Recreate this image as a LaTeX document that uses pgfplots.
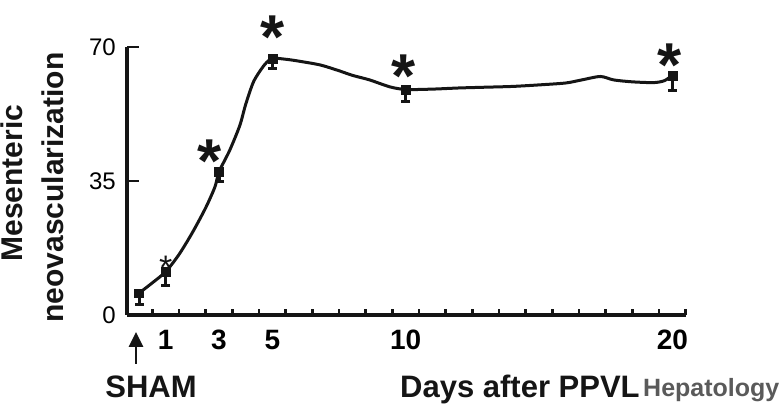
\documentclass[border=0pt]{standalone}
\usepackage{fontspec}
\setmainfont{Liberation Sans}
\usepackage{pgfplots}
\pgfplotsset{compat=1.18}
\usetikzlibrary{arrows.meta}
\definecolor{ink}{HTML}{151515}
\definecolor{hep}{HTML}{5A5A5A}
\begin{document}
\begin{tikzpicture}[x=1pt,y=1pt]
\useasboundingbox (0,0) rectangle (781,406);
\begin{axis}[
 at={(127pt,91pt)}, anchor=south west,
 scale only axis, width=558.7pt, height=268pt,
 xmin=-0.45, xmax=20.5, ymin=0, ymax=70,
 axis lines=left, axis line style={-, line width=3.2pt, ink},
 tick align=inside,
 xtick={0.5,1.5,...,20.5}, xticklabels={},
 major tick length=6pt,
 every tick/.style={ink, line width=2.6pt},
 ytick=\empty,
 extra x ticks={1,3,5,10,20},
 extra x tick labels={1,3,5,10,20},
 extra x tick style={major tick length=0pt, tick label style={font=\fontsize{28}{28}\selectfont\bfseries, inner sep=0pt, anchor=north, yshift=-15pt}},
 extra y ticks={0,35,70},
 extra y tick labels={0,35,70},
 extra y tick style={major tick length=12pt, tick label style={font=\fontsize{24}{24}\selectfont, inner sep=0pt, anchor=east, xshift=-11pt}},
 clip=false,
]
\addplot[ink, line width=3pt, smooth, tension=0.45] coordinates {
(0,5.7) (0.5,8.4) (1,11.3) (1.5,15.8) (2,21.5) (2.5,28) (2.85,33.5) (3,37.4)
(3.4,43) (3.78,49.5) (4.0,55) (4.3,61) (4.7,65.3) (5,67) (5.5,66.8) (6,66.3)
(6.8,65.3) (7.5,63.8) (8,62.6) (8.65,61.4) (9.4,59.6) (10,58.9) (11,59)
(12,59.3) (13,59.5) (14,59.7) (15,60.1) (16,60.6) (16.6,61.4) (17.3,62.3)
(17.8,61.4) (18.5,60.9) (19.3,60.7) (19.7,61.2) (20,62.6)
};
\addplot[ink, only marks, mark=square*, mark size=4.4pt, mark options={fill=ink, draw=ink},
 error bars/.cd, y dir=minus, y explicit,
 error bar style={line width=3pt, ink},
 error mark options={rotate=90, mark size=4.5pt, line width=3pt, ink}]
 coordinates {
(0,5.7) -= (0,3)
(1,11.3) -= (0,3.5)
(3,37.4) -= (0,2.6)
(5,67) -= (0,2.5)
(10,58.9) -= (0,3.2)
(20,62.6) -= (0,4)
};
\node[anchor=north, inner sep=0pt, font=\fontsize{62}{62}\selectfont\bfseries, text=ink] at (axis cs:2.66,45.7) {*};
\node[anchor=north, inner sep=0pt, font=\fontsize{62}{62}\selectfont\bfseries, text=ink] at (axis cs:5,78.3) {*};
\node[anchor=north, inner sep=0pt, font=\fontsize{62}{62}\selectfont\bfseries, text=ink] at (axis cs:9.93,67.9) {*};
\node[anchor=north, inner sep=0pt, font=\fontsize{62}{62}\selectfont\bfseries, text=ink] at (axis cs:19.9,71) {*};
\node[anchor=north, inner sep=0pt, font=\fontsize{34}{34}\selectfont, text=ink] at (axis cs:1,15.4) {*};
\end{axis}
\draw[ink, line width=2.6pt, -{Triangle[width=14pt,length=15pt]}] (136,42) -- (136,74);
\node[rotate=90, anchor=base, inner sep=0pt, font=\fontsize{30}{30}\selectfont\bfseries, text=ink] at (23,223) {Mesenteric};
\node[rotate=90, anchor=base, inner sep=0pt, font=\fontsize{30}{30}\selectfont\bfseries, text=ink] at (63,218.5) {neovascularization};
\node[anchor=base, inner sep=0pt, font=\fontsize{31}{31}\selectfont\bfseries, text=ink] at (151,8) {SHAM};
\node[anchor=base west, inner sep=0pt, font=\fontsize{31}{31}\selectfont\bfseries, text=ink] at (400,8) {Days after PPVL};
\node[anchor=base west, inner sep=0pt, font=\fontsize{25}{25}\selectfont\bfseries, text=hep] at (643,9) {Hepatology};
\end{tikzpicture}
\end{document}
